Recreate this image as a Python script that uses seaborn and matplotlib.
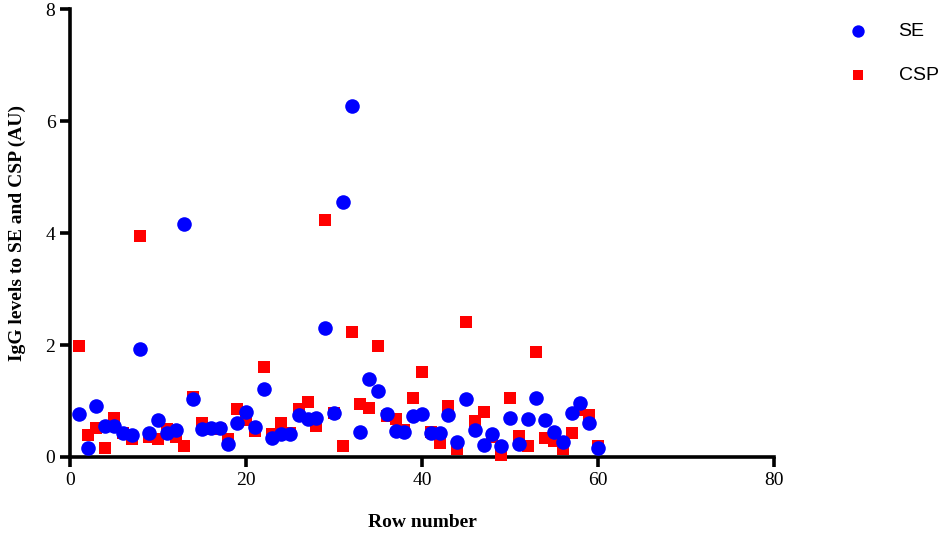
import numpy as np
import pandas as pd
import matplotlib
matplotlib.use("Agg")
import matplotlib.pyplot as plt
import seaborn as sns

# row numbers 1..60
rows = list(range(1, 61))

se = [0.77, 0.16, 0.91, 0.55, 0.55, 0.43, 0.39, 1.93, 0.43, 0.66,
      0.43, 0.48, 4.16, 1.04, 0.50, 0.52, 0.52, 0.23, 0.60, 0.81,
      0.53, 1.21, 0.34, 0.41, 0.41, 0.75, 0.67, 0.70, 2.30, 0.79,
      4.55, 6.27, 0.45, 1.39, 1.18, 0.77, 0.46, 0.45, 0.73, 0.77,
      0.43, 0.43, 0.75, 0.27, 1.04, 0.48, 0.21, 0.41, 0.20, 0.70,
      0.23, 0.68, 1.05, 0.66, 0.45, 0.26, 0.78, 0.96, 0.61, 0.16]

csp = [1.98, 0.39, 0.52, 0.16, 0.70, 0.42, 0.32, 3.95, 0.36, 0.32,
       0.50, 0.36, 0.20, 1.07, 0.61, 0.50, 0.50, 0.32, 0.86, 0.66,
       0.46, 1.60, 0.41, 0.61, 0.43, 0.86, 0.98, 0.55, 4.23, 0.79,
       0.20, 2.23, 0.95, 0.87, 1.98, 0.73, 0.67, 0.48, 1.05, 1.52,
       0.45, 0.25, 0.91, 0.14, 2.41, 0.64, 0.80, 0.36, 0.04, 1.05,
       0.38, 0.20, 1.88, 0.34, 0.29, 0.14, 0.43, 0.84, 0.75, 0.20]

df = pd.DataFrame({
    "row": rows * 2,
    "value": se + csp,
    "antigen": ["SE"] * 60 + ["CSP"] * 60,
})

sns.set_style("ticks")
plt.rcParams["font.family"] = ["Liberation Serif", "DejaVu Serif"]
plt.rcParams["text.color"] = "black"
plt.rcParams["axes.labelcolor"] = "black"

fig = plt.figure(figsize=(9.5, 5.33), dpi=100)
ax = fig.add_axes([0.0737, 0.1426, 0.741, 0.8404])

# csp drawn first so the blue dots sit on top
sns.scatterplot(data=df[df.antigen == "CSP"], x="row", y="value", ax=ax,
                color="#ff0000", marker="s", s=85, linewidth=0, clip_on=False,
                label="CSP", zorder=3)
sns.scatterplot(data=df[df.antigen == "SE"], x="row", y="value", ax=ax,
                color="#0000ff", marker="o", s=110, linewidth=0, clip_on=False,
                label="SE", zorder=4)

ax.set_xlim(0, 80)
ax.set_ylim(0, 8)
ax.set_xticks([0, 20, 40, 60, 80])
ax.set_yticks([0, 2, 4, 6, 8])
sns.despine(ax=ax)
for sp in ["left", "bottom"]:
    ax.spines[sp].set_linewidth(2.6)
    ax.spines[sp].set_color("black")
ax.tick_params(width=2.6, length=7, labelsize=14, direction="out",
               color="black", labelcolor="black")

ax.set_xlabel("Row number", fontsize=14, fontweight="bold", labelpad=18)
ax.set_ylabel("IgG levels to SE and CSP (AU)", fontsize=14, fontweight="bold",
              labelpad=14)

handles, labels = ax.get_legend_handles_labels()
ax.get_legend().remove()
order = [labels.index("SE"), labels.index("CSP")]
fig.legend([handles[i] for i in order], [labels[i] for i in order],
           loc="upper left", bbox_to_anchor=(0.864, 0.99), frameon=False,
           labelspacing=1.35, handletextpad=1.1, markerscale=0.85,
           prop={"family": "Liberation Sans", "size": 14})

fig.savefig("out.png", dpi=100)
